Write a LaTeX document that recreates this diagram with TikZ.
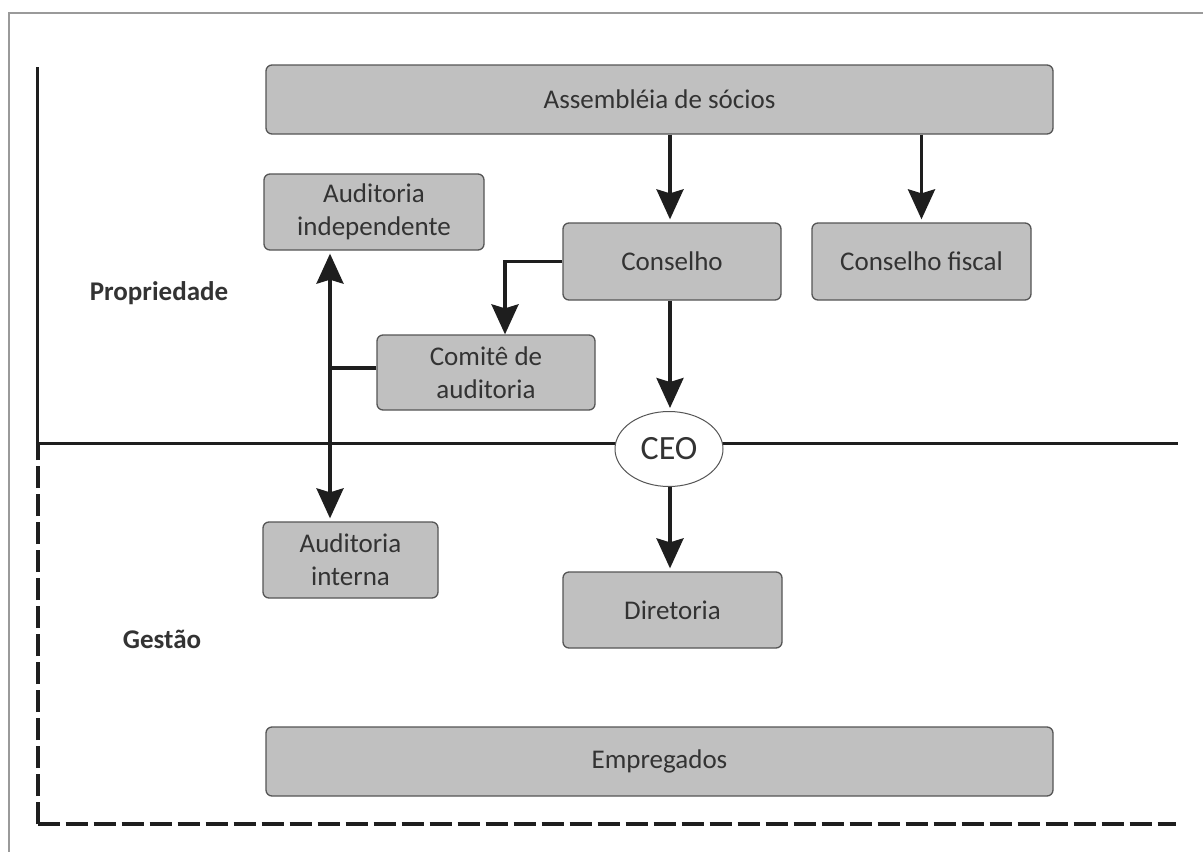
\documentclass[tikz,border=0pt]{standalone}
\usepackage{fontspec}
\setmainfont{Carlito}
\usetikzlibrary{arrows.meta,shapes.geometric}
\definecolor{boxfill}{HTML}{C0C0C0}
\definecolor{boxline}{HTML}{555555}
\definecolor{txt}{HTML}{333333}
\definecolor{framecol}{HTML}{9A9A9A}
\definecolor{linecol}{HTML}{1E1E1E}
\begin{document}
\begin{tikzpicture}[x=1pt,y=-1pt,
  box/.style={draw=boxline, line width=1.3pt, fill=boxfill, rounded corners=6pt,
    align=center, text=txt, inner sep=0pt,
    font=\fontsize{27}{33}\selectfont},
  lbl/.style={text=txt, font=\fontsize{27}{33}\selectfont\bfseries, inner sep=0pt},
  conn/.style={draw=linecol, line width=3.5pt},
  tip/.style={-{Stealth[length=30pt,width=27pt,inset=4pt]}},
  arr/.style={conn, tip, shorten >=3pt},
  dbl/.style={conn, {Stealth[length=30pt,width=27pt,inset=4pt]}-{Stealth[length=30pt,width=27pt,inset=4pt]}, shorten >=3pt, shorten <=3pt},
  dashline/.style={draw=linecol, line width=4pt, dash pattern=on 22pt off 6pt}
]
\useasboundingbox (0,0) rectangle (1203,852);
% outer frame (top and left only)
\draw[framecol, line width=2pt] (9,852) -- (9,13) -- (1203,13);

% axes
\coordinate (ax0) at (37.5,67);
\coordinate (axm) at (37.5,443.5);
\coordinate (axr) at (1178,443.5);
\coordinate (axc) at (37.5,824);
\coordinate (axe) at (1176,824);
\draw[conn] (ax0) -- (axm);
\draw[conn] (axm) -- (axr);
\draw[dashline] (axc) -- (axm);
\draw[dashline] (axc) -- (axe);

% nodes
\node[box, minimum width=787pt, minimum height=69pt] (asm) at (659.5,99.5) {Assembléia de sócios};
\node[box, minimum width=220pt, minimum height=76pt] (audind) at (374,212) {Auditoria\\independente};
\node[box, minimum width=218pt, minimum height=77pt] (cons) at (672,261.5) {Conselho};
\node[box, minimum width=219pt, minimum height=77pt] (fisc) at (921.5,261.5) {Conselho fiscal};
\node[box, minimum width=218pt, minimum height=75pt] (comite) at (486,372.5) {Comitê de\\auditoria};
\node[ellipse, draw=boxline, line width=1pt, fill=white, minimum width=108pt, minimum height=75pt,
      inner sep=0pt, text=txt, font=\fontsize{34}{40}\selectfont] (ceo) at (669,449) {CEO};
\node[box, minimum width=175pt, minimum height=76pt] (audint) at (350.5,560) {Auditoria\\interna};
\node[box, minimum width=219pt, minimum height=76pt] (dir) at (672.5,610) {Diretoria};
\node[box, minimum width=787pt, minimum height=69pt] (emp) at (659.5,761.5) {Empregados};

\node[lbl] (prop) at (159,293) {Propriedade};
\node[lbl] (gest) at (162,639) {Gestão};

% connectors
\coordinate (vx) at (330,0);
\coordinate (cx) at (505,0);
\draw[arr] (asm.south -| 670,0) -- (cons.north -| 670,0);
\draw[arr] (asm.south -| fisc.north) -- (fisc.north);
\draw[arr] (cons.south -| 670,0) -- (ceo.north -| 670,0);
\draw[arr] (ceo.south -| 670,0) -- (dir.north -| 670,0);
\draw[conn, tip] (cons.west) -| (comite.north -| cx);
\draw[dbl] (audind.south -| vx) -- (audint.north -| vx);
\draw[conn] (comite.west |- 0,368) -- (vx |- 0,368);
\end{tikzpicture}
\end{document}
